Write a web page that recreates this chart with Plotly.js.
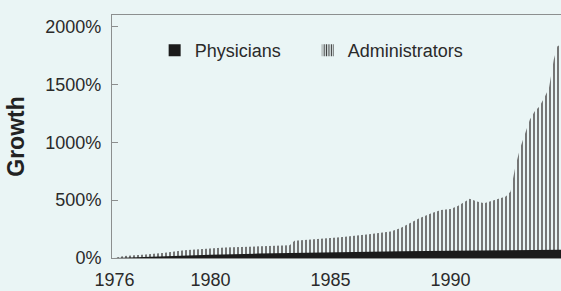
<!DOCTYPE html>
<html>
<head>
<meta charset="utf-8">
<script src="https://cdn.plot.ly/plotly-3.0.1.min.js"></script>
<style>html,body{margin:0;padding:0;background:#eaf5f5;}#chart{width:561px;height:291px;}</style>
</head>
<body>
<div id="chart"></div>
<script>
// Administrators growth (%)
const adminYears = [1976.0, 1976.4, 1977.3, 1978.1, 1978.9, 1979.8, 1980.6, 1981.6, 1982.9, 1983.3, 1983.5, 1984.5, 1985.4, 1986.6, 1987.5, 1987.9, 1988.3, 1988.7, 1989.2, 1989.6, 1990.0, 1990.3, 1990.8, 1991.1, 1991.4, 1991.9, 1992.3, 1992.5, 1992.7, 1992.9, 1993.1, 1993.3, 1993.5, 1993.7, 1993.9, 1994.1, 1994.3, 1994.45, 1994.6];
const adminGrowth = [0, 18, 30, 45, 68, 82, 90, 98, 105, 110, 150, 165, 180, 205, 228, 257, 300, 343, 387, 415, 424, 450, 511, 488, 473, 502, 531, 574, 790, 950, 1065, 1195, 1267, 1310, 1383, 1470, 1715, 1830, 1845];
// Physicians growth (%)
const physYears = [1976.0, 1977, 1978, 1980, 1982, 1985, 1988, 1990, 1992, 1994.6];
const physGrowth = [0, 8, 15, 28, 38, 50, 58, 63, 67, 72];
const xTickYears = [1976, 1980, 1985, 1990];
const seriesNames = ["Physicians", "Administrators"];

const bg = '#eaf5f5';
const axisGray = '#8c8f8f';
const hatch = '#5e5e5e';

const traces = [
  {
    type: 'scatter', mode: 'lines', x: adminYears, y: adminGrowth,
    fill: 'tozeroy', line: {width: 0, color: hatch},
    fillcolor: 'rgba(0,0,0,0)',
    fillpattern: {shape: '|', size: 4, solidity: 0.42, fgcolor: hatch, bgcolor: 'rgba(0,0,0,0)'},
    showlegend: false, hoverinfo: 'skip'
  },
  {
    type: 'scatter', mode: 'lines', x: physYears, y: physGrowth,
    fill: 'tozeroy', line: {width: 0, color: '#1b1b1b'},
    fillcolor: '#1b1b1b', showlegend: false, hoverinfo: 'skip'
  },
  {
    type: 'bar', name: seriesNames[0], x: [null], y: [null], legend: 'legend',
    marker: {color: '#1b1b1b', line: {width: 0}}
  },
  {
    type: 'bar', name: seriesNames[1], x: [null], y: [null], legend: 'legend2',
    marker: {color: bg, line: {width: 0},
      pattern: {shape: '|', size: 3, solidity: 0.45, fgcolor: '#333', bgcolor: bg}}
  }
];

const legendFont = {size: 18, color: '#2a2a2a'};
const layout = {
  width: 561, height: 291,
  margin: {l: 112, r: 0, t: 15, b: 33, pad: 0},
  paper_bgcolor: bg, plot_bgcolor: bg,
  font: {family: 'Liberation Sans, Arial, sans-serif', size: 18, color: '#2a2a2a'},
  showlegend: true,
  legend: {
    orientation: 'h', x: 0.095, xanchor: 'left', y: 0.93, yanchor: 'top',
    bgcolor: 'rgba(0,0,0,0)', font: legendFont
  },
  legend2: {
    orientation: 'h', x: 0.436, xanchor: 'left', y: 0.93, yanchor: 'top',
    bgcolor: 'rgba(0,0,0,0)', font: legendFont
  },
  xaxis: {
    type: 'linear', range: [1975.9, 1994.6], tickvals: xTickYears,
    showgrid: false, zeroline: false, ticks: '',
    showline: true, mirror: true, linecolor: axisGray, linewidth: 1,
    ticklabelstandoff: 5, tickfont: {size: 18, color: '#2a2a2a'}
  },
  yaxis: {
    range: [0, 2100], dtick: 500, tick0: 0, tickformat: 'd', ticksuffix: '%',
    showgrid: false, zeroline: false, ticks: 'inside', ticklen: 6, tickcolor: axisGray,
    showline: true, linecolor: axisGray, linewidth: 1,
    ticklabelstandoff: 6, tickfont: {size: 18, color: '#2a2a2a'},
    title: {text: '<b>Growth</b>', font: {size: 23, color: '#222'}, standoff: 14}
  },
  bargap: 0.2
};

Plotly.newPlot('chart', traces, layout, {displayModeBar: false, staticPlot: true});
</script>
</body>
</html>
